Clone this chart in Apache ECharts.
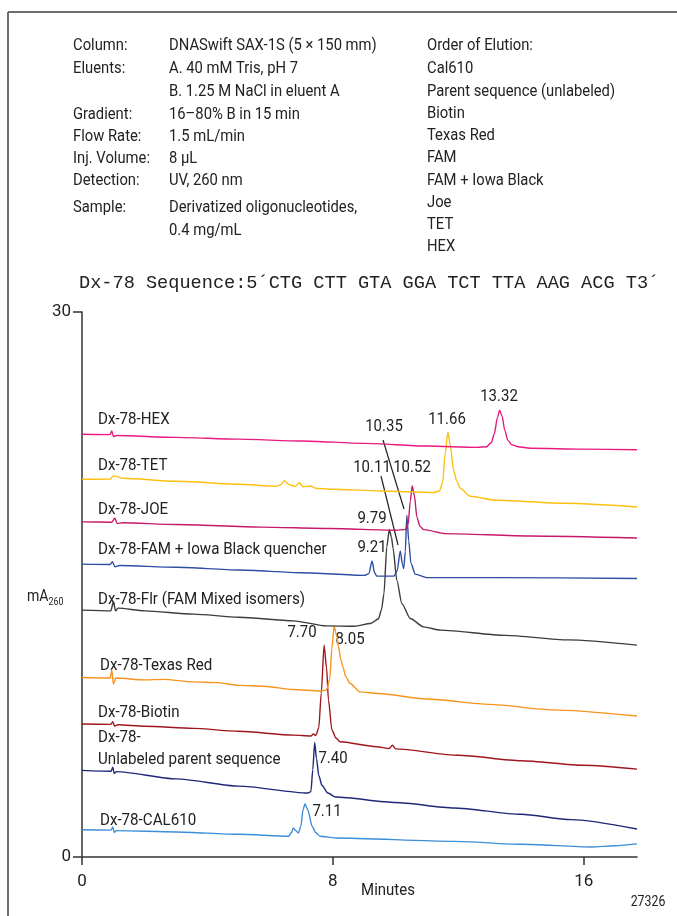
<!DOCTYPE html>
<html><head><meta charset="utf-8">
<script src="https://cdn.jsdelivr.net/npm/echarts@6/dist/echarts.min.js"></script>
<style>html,body{margin:0;padding:0;background:#fff}#c{width:677px;height:916px}</style>
</head><body><div id="c"></div>
<script>
// ---- data (minutes, mA260 stacked offset) ----
const xTicks = [0, 8, 16];
const yTicks = [0, 30];
const traceNames = ['Dx-78-HEX','Dx-78-TET','Dx-78-JOE','Dx-78-FAM + Iowa Black quencher','Dx-78-Flr (FAM Mixed isomers)','Dx-78-Texas Red','Dx-78-Biotin','Dx-78-Unlabeled parent sequence','Dx-78-CAL610'];
const hex = [[0,23.27],[0.9,23.25],[0.95,23.45],[1.0,23.15],[1.1,23.2],[3,23.1],[5,23.0],[7,22.9],[9,22.77],[11,22.62],[12.6,22.55],[12.9,22.58],[13.05,22.8],[13.15,23.3],[13.25,24.2],[13.32,24.59],[13.4,24.25],[13.48,23.5],[13.58,22.95],[13.7,22.7],[13.9,22.58],[14.3,22.5],[16,22.45],[17.7,22.42]];
const tet = [[0,20.79],[0.9,20.8],[1.0,20.98],[1.1,20.95],[1.3,20.85],[3,20.68],[5,20.52],[6.2,20.4],[6.35,20.5],[6.45,20.72],[6.6,20.5],[6.8,20.4],[6.93,20.6],[7.05,20.38],[7.3,20.42],[7.45,20.3],[8,20.24],[9.5,20.15],[11.2,20.06],[11.4,20.15],[11.5,20.6],[11.58,22.2],[11.67,23.39],[11.75,22.6],[11.85,21.29],[11.95,20.7],[12.06,20.3],[12.38,19.86],[13.2,19.64],[15.4,19.47],[17.7,19.27]];
const joe = [[0,18.45],[0.95,18.43],[1.05,18.65],[1.12,18.35],[1.3,18.4],[3,18.3],[5.7,18.16],[7.9,18.08],[10.0,17.99],[10.3,18.02],[10.4,18.3],[10.47,19.6],[10.53,20.42],[10.6,19.9],[10.68,18.71],[10.78,18.2],[10.9,18.02],[11.6,17.8],[14.3,17.67],[17.7,17.56]];
const famIowa = [[0,16.12],[0.9,16.1],[0.97,16.25],[1.05,15.98],[1.2,16.05],[3,15.95],[5,15.8],[7,15.65],[9.0,15.5],[9.15,15.6],[9.25,16.3],[9.33,15.65],[9.4,15.46],[9.95,15.46],[10.05,15.75],[10.15,16.85],[10.22,16.1],[10.26,15.88],[10.31,16.8],[10.36,18.81],[10.42,17.4],[10.49,16.17],[10.63,15.57],[11.0,15.38],[13.2,15.38],[17.7,15.33]];
const flr = [[0,13.59],[0.92,13.55],[1.0,14.04],[1.07,13.55],[1.15,13.7],[2,13.55],[3.55,13.37],[5,13.2],[6.74,13.0],[7.8,12.72],[8.7,12.7],[9.2,12.85],[9.45,13.1],[9.55,13.6],[9.63,14.5],[9.72,17.07],[9.8,18.02],[9.87,17.6],[9.92,17.0],[10.04,15.24],[10.2,13.95],[10.47,13.13],[10.89,12.67],[11.43,12.49],[13.5,12.2],[15.5,11.95],[17.7,11.66]];
const texasRed = [[0,9.88],[0.9,9.85],[0.95,10.29],[1.0,9.52],[1.08,9.85],[2,9.75],[2.6,9.78],[3.55,9.64],[4.3,9.6],[5,9.45],[5.8,9.4],[6.74,9.22],[7.6,9.13],[7.8,9.2],[7.9,9.8],[7.97,11.5],[8.04,12.71],[8.12,12.2],[8.18,11.57],[8.25,10.9],[8.32,10.46],[8.42,9.9],[8.55,9.55],[8.87,9.09],[9.45,9.0],[11,8.7],[13,8.4],[15,8.1],[17.7,7.76]];
const biotin = [[0,7.32],[0.92,7.3],[0.98,7.45],[1.04,7.2],[1.15,7.28],[2,7.2],[3.55,7.08],[5,6.92],[6.74,6.71],[7.3,6.66],[7.38,6.78],[7.45,6.68],[7.55,7.1],[7.63,9.0],[7.72,11.66],[7.8,10.4],[7.86,8.64],[7.97,6.99],[8.1,6.55],[8.23,6.34],[9.4,6.07],[9.8,5.97],[9.9,6.15],[10.0,5.95],[12,5.6],[14,5.3],[16,5.05],[17.7,4.84]];
const unlabeled = [[0,4.77],[0.93,4.72],[0.98,4.95],[1.03,4.6],[1.1,4.7],[3,4.3],[5,3.9],[7.2,3.52],[7.3,3.6],[7.36,4.8],[7.42,6.31],[7.48,5.4],[7.55,4.5],[7.65,3.95],[7.84,3.52],[8.09,3.3],[10,3.0],[11.86,2.7],[14,2.35],[15.6,2.06],[17.7,1.54]];
const cal610 = [[0,1.5],[0.93,1.48],[0.98,1.65],[1.03,1.35],[1.1,1.45],[3,1.38],[5,1.25],[6.59,1.14],[6.68,1.35],[6.74,1.6],[6.82,1.45],[6.9,1.32],[6.98,1.7],[7.05,2.6],[7.11,2.92],[7.2,2.6],[7.34,1.69],[7.45,1.35],[7.59,1.14],[8.09,1.05],[11.86,0.86],[14,0.7],[16.25,0.55],[17,0.62],[17.7,0.72]];
const peakLabels = ['13.32','11.66','10.35','10.52','10.11','9.79','9.21','7.70','8.05','7.40','7.11'];
const conditionsKeys = ['Column:','Eluents:','','Gradient:','Flow Rate:','Inj. Volume:','Detection:','Sample:',''];
const conditionsVals = ['DNASwift SAX-1S (5 \u00d7 150 mm)','A. 40 mM Tris, pH 7','B. 1.25 M NaCl in eluent A','16\u201380% B in 15 min','1.5 mL/min','8 \u00b5L','UV, 260 nm','Derivatized oligonucleotides,','0.4 mg/mL'];
const elutionOrder = ['Order of Elution:','Cal610','Parent sequence (unlabeled)','Biotin','Texas Red','FAM','FAM + Iowa Black','Joe','TET','HEX'];
const sequenceText = 'Dx-78 Sequence:5\u00b4CTG CTT GTA GGA TCT TTA AAG ACG T3\u00b4';

// ---- presentation ----
const FONT = "Roboto,'Liberation Sans',sans-serif";
const colors = ['#e8197f','#fdc010','#c8186b','#2f4ea3','#3c3c3c','#f7941d','#a0161d','#1e2878','#3b8ed8'];
const traces = [hex, tet, joe, famIowa, flr, texasRed, biotin, unlabeled, cal610];

const chart = echarts.init(document.getElementById('c'), null, {renderer:'canvas'});
const G = [];
function txt(x, y, s, opt, sx) {
  G.push({type:'text', x:x, y:y, scaleX:(sx||0.87), style:Object.assign({text:s, fill:'#222', font:'17px '+FONT, textVerticalAlign:'middle'}, opt||{})});
}
// frame
G.push({type:'line', shape:{x1:8,y1:12,x2:677,y2:12}, style:{stroke:'#6e6e6e', lineWidth:2}});
G.push({type:'line', shape:{x1:8,y1:12,x2:8,y2:916}, style:{stroke:'#6e6e6e', lineWidth:2}});
// header
const keyY = [46,69,92,115,137,159,181,208,231];
conditionsKeys.forEach((k,i)=>{ if(k) txt(73, keyY[i], k); });
conditionsVals.forEach((v,i)=>txt(169, keyY[i], v));
const elY = [46,69,92,114,136,158,181,203,225,247];
elutionOrder.forEach((v,i)=>txt(427, elY[i], v));
G.push({type:'text', x:79, y:283, style:{text:sequenceText, fill:'#222', font:"18.6px 'Liberation Mono','DejaVu Sans Mono',monospace", textVerticalAlign:'middle'}});
// trace labels
const tl = [[98,420,'Dx-78-HEX'],[98,466,'Dx-78-TET'],[98,510,'Dx-78-JOE'],[98,550,'Dx-78-FAM + Iowa Black quencher'],[98,600,'Dx-78-Flr (FAM Mixed isomers)'],[100,666,'Dx-78-Texas Red'],[98,713,'Dx-78-Biotin'],[98,738,'Dx-78-'],[98,760,'Unlabeled parent sequence'],[100,821,'Dx-78-CAL610']];
tl.forEach(a=>txt(a[0],a[1],a[2],null,0.89));
// peak labels
const pl = [[499,397],[447,420],[384,427],[412,468],[372,468],[372,519],[372,548],[302,633],[350,640],[333,759],[327,812]];
pl.forEach((p,i)=>txt(p[0],p[1],peakLabels[i],{textAlign:'center'},0.88));
// leader lines
G.push({type:'line', shape:{x1:383,y1:440,x2:404,y2:509}, style:{stroke:'#222', lineWidth:1.2}});
G.push({type:'line', shape:{x1:381,y1:476,x2:398,y2:545}, style:{stroke:'#222', lineWidth:1.2}});
// axis texts
G.push({type:'text', x:27, y:597, scaleX:0.88, style:{rich:{a:{font:'16px '+FONT, fill:'#222'}, s:{font:'10px '+FONT, fill:'#222', padding:[10,0,0,0]}}, text:'{a|mA}{s|260}', textVerticalAlign:'middle'}});
txt(388, 891, 'Minutes', {textAlign:'center'}, 0.88);
txt(648, 902, '27326', {textAlign:'center', font:'14px '+FONT}, 0.88);

chart.setOption({
  animation:false,
  grid:{left:82, right:40, top:312, bottom:59, containLabel:false},
  xAxis:{type:'value', min:0, max:17.7, interval:8,
    axisLine:{lineStyle:{color:'#333', width:1.5}},
    axisTick:{inside:false, length:8, lineStyle:{color:'#333', width:1.5}},
    axisLabel:{color:'#222', fontFamily:FONT, fontSize:17, margin:16, showMaxLabel:false, formatter:v=>xTicks.includes(v)?String(v):''},
    splitLine:{show:false}},
  yAxis:{type:'value', min:0, max:30, interval:30,
    axisLine:{show:true, lineStyle:{color:'#333', width:1.5}},
    axisTick:{show:true, inside:false, length:9, lineStyle:{color:'#333', width:1.5}},
    axisLabel:{color:'#222', fontFamily:FONT, fontSize:17, margin:11, formatter:v=>yTicks.includes(v)?String(v):''},
    splitLine:{show:false}},
  series: traces.map((d,i)=>({type:'line', name:traceNames[i], data:d, showSymbol:false, smooth:0.25, smoothMonotone:'x',
    lineStyle:{color:colors[i], width:1.4}, z:10-i})),
  graphic: G
});
</script></body></html>
